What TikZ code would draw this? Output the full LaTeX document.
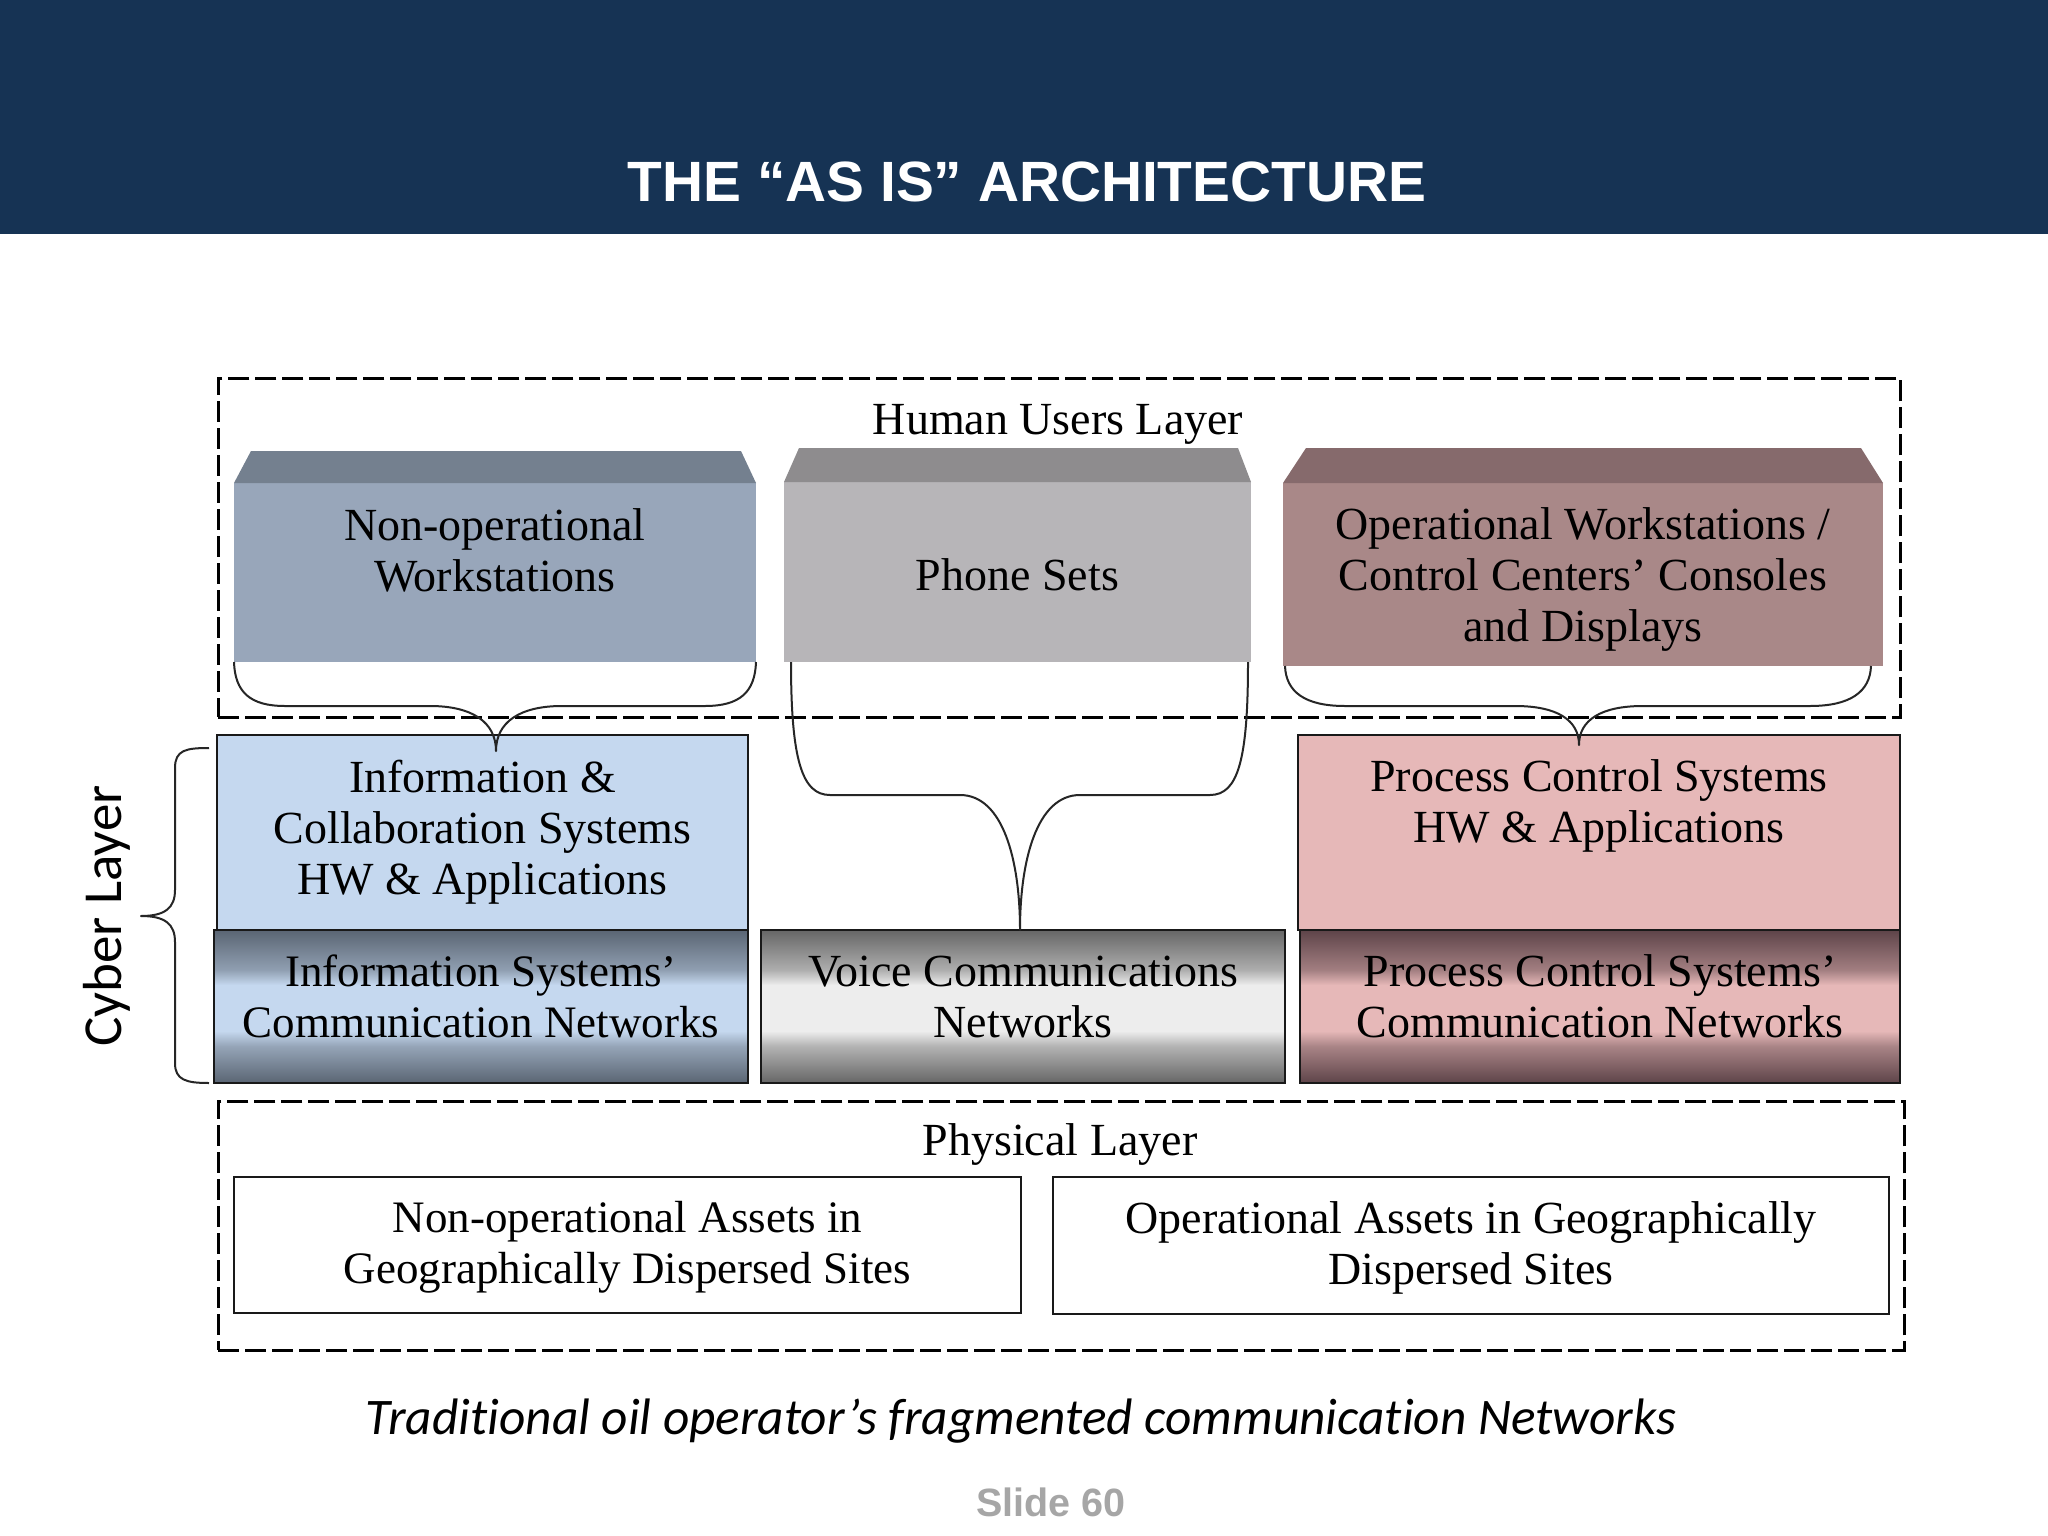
\documentclass[tikz,border=0pt]{standalone}
\usepackage{fontspec}
\setmainfont{Liberation Serif}
\newfontfamily\headfont{Liberation Sans}
\newfontfamily\notefont[Ligatures=NoCommon]{Carlito}
\usepackage{tikz}
\usetikzlibrary{positioning}

\definecolor{headblue}{HTML}{163354}
\definecolor{nonopfront}{HTML}{98A6BA}
\definecolor{nonoptop}{HTML}{74808F}
\definecolor{phonefront}{HTML}{B7B5B8}
\definecolor{phonetop}{HTML}{8E8C8E}
\definecolor{opfront}{HTML}{A98888}
\definecolor{optop}{HTML}{866A6C}
\definecolor{infofill}{HTML}{C5D8EF}
\definecolor{procfill}{HTML}{E6B8B8}
\definecolor{infodark}{HTML}{5A6573}
\definecolor{voicedark}{HTML}{666666}
\definecolor{procdark}{HTML}{5E4449}

\pgfdeclareverticalshading{infoband}{100bp}{color(0bp)=(infodark); color(25bp)=(infodark); color(37bp)=(infodark!45!infofill); color(42bp)=(infofill); color(57bp)=(infofill); color(62bp)=(infodark!50!infofill); color(75bp)=(infodark); color(100bp)=(infodark)}
\pgfdeclareverticalshading{voiceband}{100bp}{color(0bp)=(voicedark); color(25bp)=(voicedark); color(37bp)=(black!30); color(42bp)=(black!7); color(57bp)=(black!7); color(62bp)=(black!32); color(75bp)=(voicedark); color(100bp)=(voicedark)}
\pgfdeclareverticalshading{procband}{100bp}{color(0bp)=(procdark); color(25bp)=(procdark); color(37bp)=(procdark!45!procfill); color(42bp)=(procfill); color(57bp)=(procfill); color(62bp)=(procdark!50!procfill); color(75bp)=(procdark); color(100bp)=(procdark)}

\newcommand{\lift}[1]{\rule[-#1pt]{0pt}{0pt}}
\newcommand{\drop}[1]{\rule{0pt}{#1pt}}

\begin{document}
\begin{tikzpicture}[x=1pt, y=-1pt,
    box/.style={rectangle, anchor=north west, inner sep=0pt, outer sep=0pt, align=center, font=\fontsize{46}{51}\selectfont},
    framed/.style={box, draw=black!90, line width=2.5pt},
    narrowtext/.style={font=\fontsize{45}{51}\selectfont},
    layer/.style={draw=black, line width=2.6pt, dash pattern=on 21pt off 6pt},
    layertext/.style={font=\fontsize{46}{51}\selectfont},
    curly/.style={draw=black!85, line width=2pt, line join=round}]
    \useasboundingbox (0,0) rectangle (2048,1536);

    \fill[white] (0,0) rectangle (2048,1536);
    \node[rectangle, anchor=north west, fill=headblue, minimum width=2048pt, minimum height=234pt, inner sep=0pt] (head) at (0,0) {};
    \node[text=white, font=\headfont\bfseries\fontsize{56.8}{66}\selectfont] (title) at (1027,182) {THE “AS IS” ARCHITECTURE};

    \node[layer, rectangle, anchor=north west, minimum width=1682pt, minimum height=339pt] (human) at (217,377) {};
    \node[layer, rectangle, anchor=north west, minimum width=1686pt, minimum height=249pt] (physical) at (217,1100) {};
    \node[layertext] (humantext) at (1058,424) {Human Users Layer};
    \node[layertext] (physicaltext) at (1060,1144) {Physical Layer};

    \node[box, fill=nonopfront, minimum width=522pt, minimum height=179pt] (nonop) at (234,483) {Non-operational\\Workstations\lift{44}};
    \node[box, fill=phonefront, minimum width=467pt, minimum height=180pt] (phone) at (784,482) {\drop{38}Phone Sets};
    \node[box, fill=opfront, minimum width=600pt, minimum height=183pt] (opst) at (1283,483) {\drop{42}Operational Workstations /\\Control Centers’ Consoles\\and Displays};

    \fill[nonoptop] (nonop.north west) -- (251,451) -- (741,451) -- (nonop.north east) -- cycle;
    \fill[phonetop] (phone.north west) -- (799,448) -- (1238,448) -- (phone.north east) -- cycle;
    \fill[optop] (opst.north west) -- (1306,448) -- (1861,448) -- (opst.north east) -- cycle;

    \node[framed, fill=infofill, minimum width=531pt, minimum height=195pt] (infohw) at (217,735) {Information \&\\Collaboration Systems\\HW \& Applications\lift{10}};
    \node[framed, fill=procfill, minimum width=602pt, minimum height=195pt] (prochw) at (1298,735) {Process Control Systems\\HW \& Applications\lift{63}};
    \node[framed, narrowtext, shading=infoband, minimum width=534pt, minimum height=153pt] (infonet) at (214,930) {Information Systems’\\Communication Networks\lift{20}};
    \node[framed, shading=voiceband, minimum width=524pt, minimum height=153pt] (voicenet) at (761,930) {Voice Communications\\Networks\lift{20}};
    \node[framed, shading=procband, minimum width=600pt, minimum height=153pt] (procnet) at (1300,930) {Process Control Systems’\\Communication Networks\lift{20}};

    \node[framed, narrowtext, minimum width=787pt, minimum height=136pt] (nonopsite) at (234,1177) {\drop{36}Non-operational Assets in\\Geographically Dispersed Sites};
    \node[framed, minimum width=836pt, minimum height=137pt] (opsite) at (1053,1177) {\drop{36}Operational Assets in Geographically\\Dispersed Sites};

    \coordinate (tipinfo) at (496,751);
    \coordinate (tipvoice) at (1020,930);
    \coordinate (tipproc) at (1579,745);
    \coordinate (phoneleft) at (791,662);
    \coordinate (phoneright) at (1248,662);
    \coordinate (opleft) at (1285,666);
    \coordinate (opright) at (1871,666);
    \coordinate (cybertop) at (209,748);
    \coordinate (cyberbottom) at (209,1083);
    \coordinate (cybertip) at (141,916);

    \draw[curly] (nonop.south west) .. controls (235,692) and (250,706) .. (285,706) -- (430,706) .. controls (472,706) and (496,722) .. (tipinfo) .. controls (496,722) and (520,706) .. (562,706) -- (705,706) .. controls (740,706) and (755,692) .. (nonop.south east);
    \draw[curly] (phoneleft) .. controls (791,760) and (802,795) .. (830,795) -- (960,795) .. controls (1003,795) and (1020,860) .. (tipvoice) .. controls (1020,860) and (1037,795) .. (1080,795) -- (1210,795) .. controls (1238,795) and (1248,760) .. (phoneright);
    \draw[curly] (opleft) .. controls (1286,692) and (1305,706) .. (1345,706) -- (1515,706) .. controls (1557,706) and (1579,720) .. (tipproc) .. controls (1579,720) and (1601,706) .. (1643,706) -- (1810,706) .. controls (1850,706) and (1870,692) .. (opright);
    \draw[curly] (cybertop) .. controls (186,748) and (175,750) .. (175,768) -- (175,890) .. controls (175,908) and (165,916) .. (cybertip) .. controls (165,916) and (175,924) .. (175,942) -- (175,1063) .. controls (175,1080) and (186,1083) .. (cyberbottom);

    \node[rotate=90, font=\notefont\fontsize{55}{62}\selectfont] (cyber) at (107,916) {Cyber Layer};
    \node[font=\notefont\itshape\fontsize{51.3}{58}\selectfont] (note) at (1021,1421) {Traditional oil operator’s fragmented communication Networks};
    \node[text=black!35, font=\headfont\bfseries\fontsize{39.5}{46}\selectfont] (slide) at (1051,1502) {Slide 60};
\end{tikzpicture}
\end{document}
